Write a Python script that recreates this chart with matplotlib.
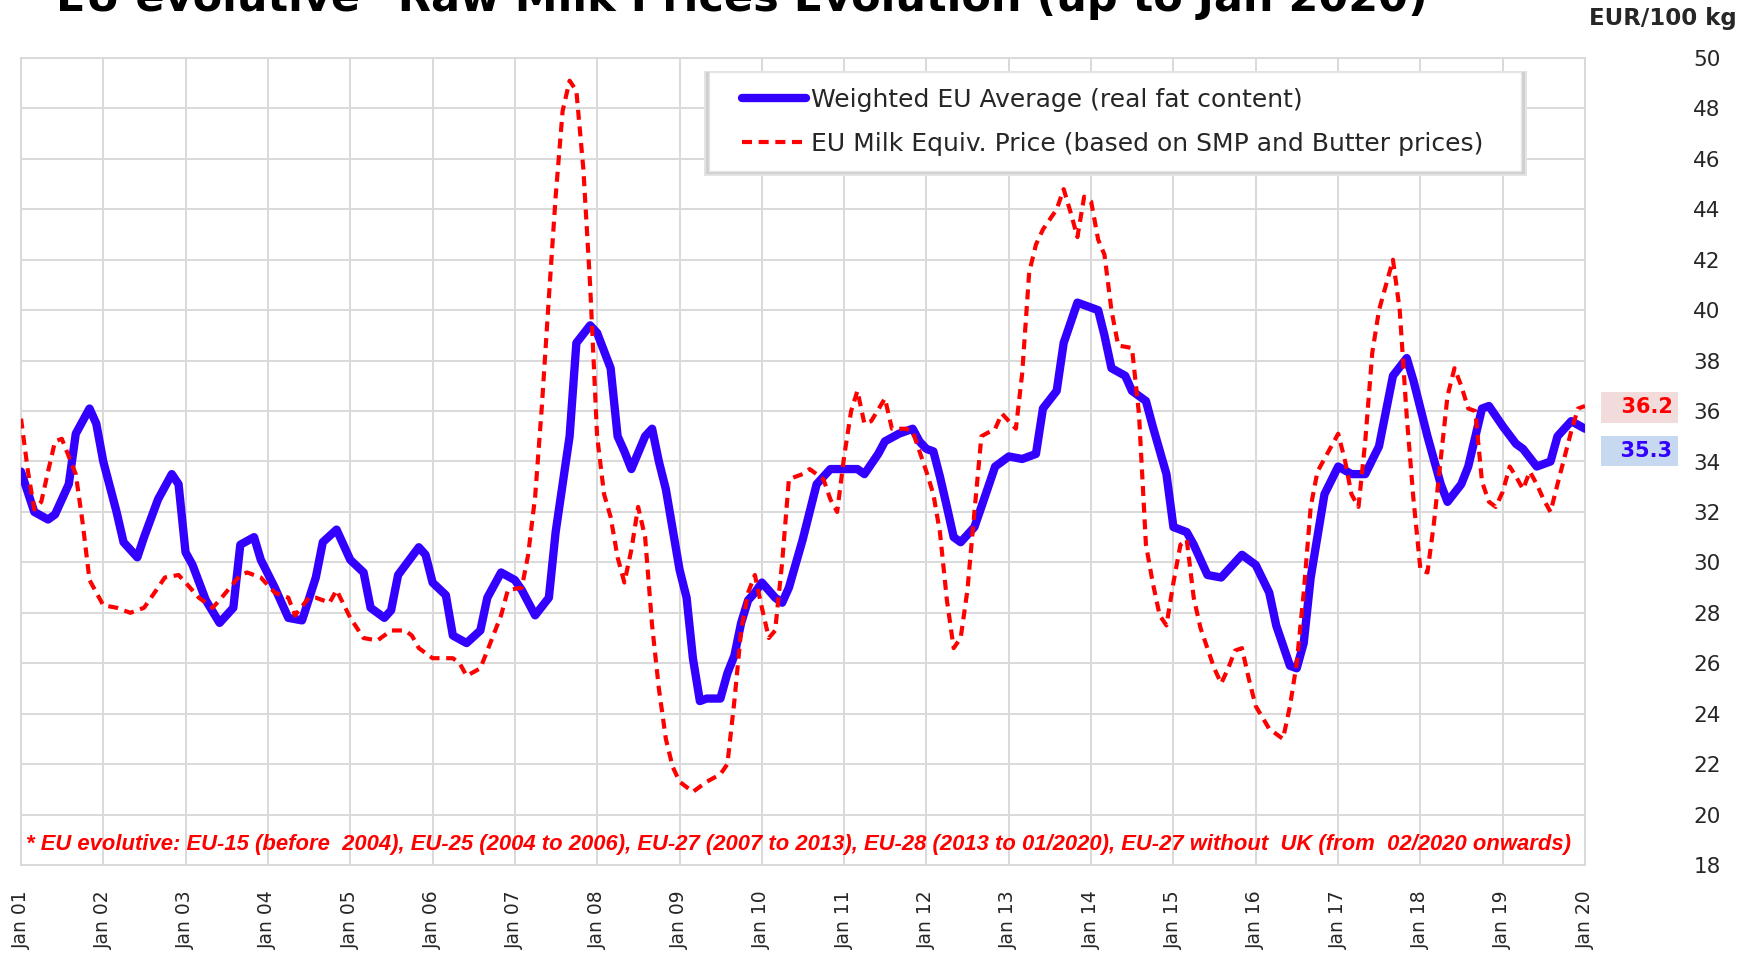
#!/usr/bin/env python3
import matplotlib
matplotlib.use("Agg")
import matplotlib.pyplot as plt
import matplotlib.dates as mdates
import matplotlib.transforms as mtransforms
from matplotlib import font_manager
from matplotlib.patches import Rectangle
import pandas as pd

TITLE = "EU evolutive* Raw Milk Prices Evolution (up to Jan 2020)"
UNIT = "EUR/100 kg"
FOOTNOTE = ("* EU evolutive: EU-15 (before  2004), EU-25 (2004 to 2006), EU-27 (2007 to 2013), "
            "EU-28 (2013 to 01/2020), EU-27 without  UK (from  02/2020 onwards)")
LABEL_AVG = "Weighted EU Average (real fat content)"
LABEL_EQUIV = "EU Milk Equiv. Price (based on SMP and Butter prices)"

# months counted from Jan 2001, values in EUR/100 kg
avg_months = [0, 2, 4, 5, 7, 8, 10, 11, 12, 14, 15, 17, 18, 20, 22, 23, 24, 25, 27, 29,
              31, 32, 34, 35, 37, 39, 41, 43, 44, 46, 48, 50, 51, 53, 54, 55, 58, 59, 60, 62,
              63, 65, 67, 68, 70, 72, 73, 75, 77, 78, 80, 81, 83, 84, 86, 87, 88, 89, 91, 92,
              93, 94, 96, 97, 98, 99, 100, 102, 103, 104, 105, 106, 107, 108, 110, 111, 112, 114, 116, 118,
              120, 122, 123, 125, 126, 128, 130, 131, 132, 133, 134, 135, 136, 137, 139, 140, 142, 144, 146, 148,
              149, 151, 152, 154, 157, 158, 159, 161, 162, 164, 165, 167, 168, 170, 171, 173, 175, 178, 180, 182,
              183, 185, 186, 187, 188, 190, 192, 194, 196, 198, 200, 202, 203, 205, 207, 208, 210, 211, 213, 214,
              216, 218, 219, 221, 223, 224, 226, 228]
avg_values = [33.6, 32.0, 31.7, 31.9, 33.1, 35.1, 36.1, 35.5, 34.0, 32.0, 30.8, 30.2, 31.0, 32.5, 33.5, 33.1, 30.4, 29.9, 28.5, 27.6,
              28.2, 30.7, 31.0, 30.1, 29.0, 27.8, 27.7, 29.4, 30.8, 31.3, 30.1, 29.6, 28.2, 27.8, 28.1, 29.5, 30.6, 30.3, 29.2, 28.7,
              27.1, 26.8, 27.3, 28.6, 29.6, 29.3, 28.9, 27.9, 28.6, 31.2, 35.0, 38.7, 39.4, 39.1, 37.7, 35.0, 34.4, 33.7, 35.0, 35.3,
              34.0, 32.9, 29.7, 28.6, 26.2, 24.5, 24.6, 24.6, 25.6, 26.3, 27.6, 28.5, 28.8, 29.2, 28.6, 28.4, 29.0, 30.9, 33.1, 33.7,
              33.7, 33.7, 33.5, 34.3, 34.8, 35.1, 35.3, 34.8, 34.5, 34.4, 33.4, 32.2, 31.0, 30.8, 31.4, 32.2, 33.8, 34.2, 34.1, 34.3,
              36.1, 36.8, 38.7, 40.3, 40.0, 39.0, 37.7, 37.4, 36.8, 36.4, 35.4, 33.5, 31.4, 31.2, 30.7, 29.5, 29.4, 30.3, 29.9, 28.8,
              27.5, 25.9, 25.8, 26.8, 29.4, 32.7, 33.8, 33.5, 33.5, 34.6, 37.4, 38.1, 37.2, 35.0, 33.1, 32.4, 33.1, 33.8, 36.1, 36.2,
              35.4, 34.7, 34.5, 33.8, 34.0, 35.0, 35.6, 35.3]

equiv_months = [0, 1, 2, 3, 4, 5, 6, 7, 8, 9, 10, 12, 14, 16, 18, 20, 21, 23, 24, 26,
                28, 29, 32, 33, 35, 37, 39, 40, 42, 43, 45, 46, 48, 50, 52, 54, 56, 57, 58, 60,
                63, 64, 65, 67, 68, 70, 71, 73, 74, 75, 76, 77, 78, 79, 80, 81, 82, 83, 84, 85,
                86, 87, 88, 89, 90, 91, 92, 93, 94, 95, 96, 98, 100, 102, 103, 104, 105, 106, 107, 108,
                109, 110, 111, 112, 114, 115, 117, 118, 119, 120, 121, 122, 123, 124, 126, 127, 129, 130, 132, 133,
                134, 135, 136, 137, 138, 139, 140, 142, 143, 145, 146, 147, 148, 149, 151, 152, 153, 154, 155, 156,
                157, 158, 159, 160, 162, 163, 164, 165, 166, 167, 168, 169, 170, 171, 172, 174, 175, 176, 177, 178,
                179, 180, 182, 184, 185, 186, 187, 188, 189, 191, 192, 193, 194, 195, 196, 197, 198, 200, 201, 202,
                203, 204, 205, 206, 207, 208, 209, 210, 211, 212, 213, 214, 215, 216, 217, 218, 219, 220, 221, 222,
                223, 224, 226, 227, 228]
equiv_values = [35.7, 33.6, 32.1, 32.4, 33.6, 34.8, 34.9, 34.2, 33.5, 31.6, 29.3, 28.3, 28.2, 28.0, 28.2, 29.0, 29.4, 29.5, 29.2, 28.6,
                28.2, 28.5, 29.5, 29.6, 29.4, 28.8, 28.6, 27.9, 28.6, 28.6, 28.4, 28.9, 27.8, 27.0, 26.9, 27.3, 27.3, 27.1, 26.6, 26.2,
                26.2, 26.0, 25.5, 25.8, 26.5, 27.9, 28.9, 29.0, 30.3, 32.6, 36.2, 40.5, 44.5, 47.9, 49.1, 48.7, 45.6, 41.0, 35.0, 32.7,
                31.8, 30.2, 29.2, 30.5, 32.2, 31.0, 27.5, 25.0, 23.0, 21.9, 21.3, 20.9, 21.3, 21.6, 22.0, 24.5, 27.3, 28.8, 29.5, 28.2,
                27.0, 27.3, 30.0, 33.3, 33.5, 33.7, 33.3, 32.5, 32.0, 34.2, 36.0, 36.8, 35.5, 35.6, 36.5, 35.3, 35.3, 35.2, 33.6, 32.7,
                31.2, 28.5, 26.6, 27.0, 28.9, 32.0, 35.0, 35.3, 35.9, 35.3, 37.5, 41.5, 42.6, 43.2, 44.0, 44.8, 43.9, 42.9, 44.5, 44.3,
                42.8, 42.2, 40.0, 38.6, 38.5, 35.9, 30.7, 29.2, 27.9, 27.5, 29.2, 30.7, 30.9, 28.6, 27.4, 25.8, 25.2, 25.8, 26.5, 26.6,
                25.4, 24.3, 23.4, 23.0, 24.3, 26.0, 28.8, 32.2, 33.6, 34.6, 35.1, 34.0, 32.7, 32.2, 34.8, 38.3, 40.0, 42.0, 40.0, 35.8,
                32.5, 29.7, 29.6, 31.5, 34.1, 36.6, 37.7, 37.0, 36.1, 36.0, 33.2, 32.4, 32.2, 32.8, 33.8, 33.4, 32.9, 33.6, 33.1, 32.5,
                32.0, 33.1, 35.2, 36.1, 36.2]

BLUE = "#3300ff"
RED = "#ff0000"
GRID = "#d9d9d9"
W, H = 1755, 955


def to_dates(months):
    periods = pd.period_range("2001-01", periods=229, freq="M")
    return periods[months].to_timestamp()


def narrow_font():
    names = {f.name for f in font_manager.fontManager.ttflist}
    for name in ["Liberation Sans Narrow", "Liberation Sans"]:
        if name in names:
            return name
    return "DejaVu Sans"


def px_rect(fig, x0, y0, x1, y1, **kw):
    # rectangle given in pixels from the top-left corner of the figure
    r = Rectangle((x0 / W, 1 - y1 / H), (x1 - x0) / W, (y1 - y0) / H,
                  transform=fig.transFigure, **kw)
    fig.add_artist(r)
    return r


def main() -> None:
    plt.rcParams["font.family"] = ["DejaVu Sans"]
    fig = plt.figure(figsize=(W / 100, H / 100), dpi=100)
    left, right, top, bottom = 21, 1585, 58, 865
    ax = fig.add_axes([left / W, 1 - bottom / H, (right - left) / W, (bottom - top) / H])

    avg_x = to_dates(avg_months)
    eq_x = to_dates(equiv_months)
    ax.plot(avg_x, avg_values, color=BLUE, lw=6, solid_capstyle="round",
            solid_joinstyle="round", label=LABEL_AVG, zorder=3)
    ax.plot(eq_x, equiv_values, color=RED, lw=3, linestyle=(0, (2.4, 1.6)),
            label=LABEL_EQUIV, zorder=4)

    ax.set_xlim(pd.Timestamp("2001-01-01"), pd.Timestamp("2020-01-01"))
    ax.set_ylim(18, 50)
    ax.set_yticks(range(18, 51, 2))
    ax.yaxis.tick_right()
    ax.xaxis.set_major_locator(mdates.YearLocator())
    ax.xaxis.set_major_formatter(mdates.DateFormatter("Jan %y"))
    ax.tick_params(axis="y", length=0, pad=78, labelsize=15.5, labelcolor="#262626")
    ax.tick_params(axis="x", length=0, pad=18, labelsize=13.5, labelrotation=90, labelcolor="#262626")
    ax.grid(True, color=GRID, lw=1.4)
    ax.set_axisbelow(True)
    for s in ax.spines.values():
        s.set_color(GRID)
        s.set_linewidth(1.4)

    # legend box with a soft shadow, entries placed inside it
    px_rect(fig, 704, 71, 1527, 176, fc="#e3e3e3", ec="none", zorder=4)
    px_rect(fig, 706, 72, 1525, 174, fc="#cfcfcf", ec="none", zorder=4.2)
    px_rect(fig, 709, 72, 1521, 171, fc="white", ec="#e6e6e6", lw=1, zorder=4.5)
    leg = fig.legend(loc="center left", bbox_to_anchor=(742 / W, 1 - 122 / H), borderaxespad=0,
                     borderpad=0, fontsize=18, handlelength=2.55, handletextpad=0.2,
                     labelspacing=0.8, frameon=False)
    leg.set_zorder(5)
    for t in leg.get_texts():
        t.set_color("#262626")

    # last value tags on the right
    trans = mtransforms.blended_transform_factory(ax.transAxes, ax.transData)
    ax.annotate(f"  {equiv_values[-1]:.1f}", xy=(1, equiv_values[-1]), xycoords=trans,
                xytext=(63, -1), textcoords="offset points", ha="right", va="center",
                fontsize=15, fontweight="bold", color=RED, annotation_clip=False,
                bbox=dict(boxstyle="square,pad=0.25", fc="#f2dcdb", ec="none"))
    ax.annotate(f"  {avg_values[-1]:.1f}", xy=(1, avg_values[-1]), xycoords=trans,
                xytext=(63, -16), textcoords="offset points", ha="right", va="center",
                fontsize=15, fontweight="bold", color=BLUE, annotation_clip=False,
                bbox=dict(boxstyle="square,pad=0.25", fc="#c6d9f0", ec="none"))

    ax.text(0.003, 0.025, FOOTNOTE, transform=ax.transAxes, ha="left", va="center",
            fontsize=15.8, fontweight="bold", fontstyle="italic", color=RED,
            family=narrow_font())

    fig.text(56 / W, 1 - 11 / H, TITLE, ha="left", va="baseline", fontsize=31,
             fontweight="bold", color="black")
    fig.text(1737 / W, 1 - 19 / H, UNIT, ha="right", va="center", fontsize=16.5,
             fontweight="bold", color="#262626")

    fig.savefig("out.png", dpi=100)
    plt.close(fig)


if __name__ == "__main__":
    main()
